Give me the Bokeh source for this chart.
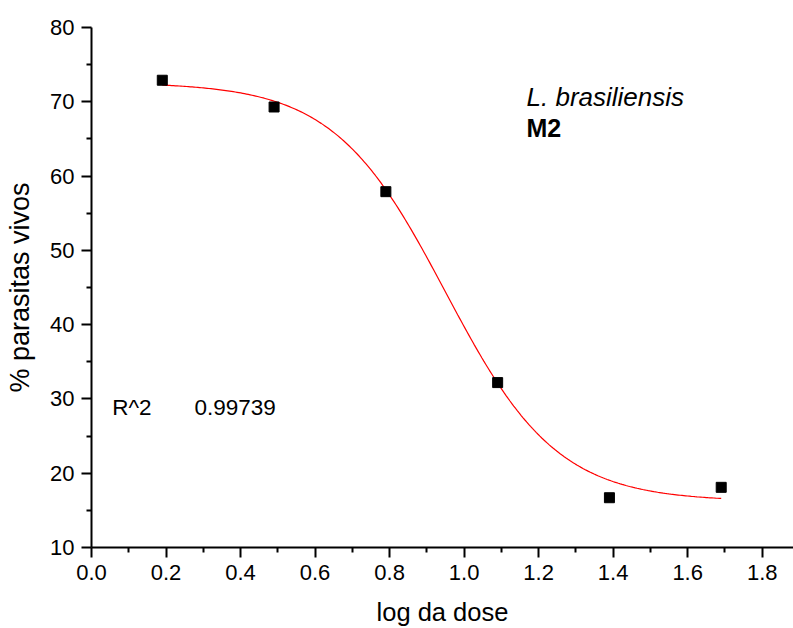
import numpy as np
from bokeh.plotting import figure
from bokeh.models import Range1d, FixedTicker, NumeralTickFormatter, Label
from bokeh.embed import file_html
from bokeh.resources import INLINE

# data
log_dose = [0.19, 0.49, 0.79, 1.09, 1.39, 1.69]
pct_alive = [72.9, 69.3, 57.9, 32.2, 16.7, 18.1]

# Boltzmann fit parameters (estimated from the drawn fit curve)
fit_A1 = 72.6
fit_A2 = 16.2
fit_x0 = 0.95
fit_dx = 0.15
r2_text = "0.99739"

x_ticks = [0.0, 0.2, 0.4, 0.6, 0.8, 1.0, 1.2, 1.4, 1.6, 1.8]
x_minor = [0.1, 0.3, 0.5, 0.7, 0.9, 1.1, 1.3, 1.5, 1.7]
y_ticks = [10, 20, 30, 40, 50, 60, 70, 80]
y_minor = [15, 25, 35, 45, 55, 65, 75]

FONT = "Liberation Sans"

p = figure(width=793, height=628, output_backend="svg", toolbar_location=None,
           x_range=Range1d(0, 1.884), y_range=Range1d(10, 80),
           min_border_left=91, min_border_right=0, min_border_top=27, min_border_bottom=80)
p.outline_line_color = None
p.xgrid.visible = False
p.ygrid.visible = False
p.background_fill_color = "white"
p.border_fill_color = "white"

xf = np.linspace(min(log_dose), max(log_dose), 300)
yf = fit_A2 + (fit_A1 - fit_A2) / (1 + np.exp((xf - fit_x0) / fit_dx))
p.line(xf, yf, line_color="#ff0000", line_width=1.2)
p.scatter(log_dose, pct_alive, marker="square", size=10, fill_color="black", line_color="black")

for ax, ticks, minor in ((p.xaxis[0], x_ticks, x_minor), (p.yaxis[0], y_ticks, y_minor)):
    ax.ticker = FixedTicker(ticks=ticks, minor_ticks=minor)
    ax.axis_line_width = 2
    ax.major_tick_line_width = 2
    ax.minor_tick_line_width = 2
    ax.major_tick_out = 10
    ax.major_tick_in = 0
    ax.minor_tick_out = 5
    ax.minor_tick_in = 0
    ax.major_label_text_font = FONT
    ax.major_label_text_font_size = "22px"
    ax.major_label_text_color = "black"
    ax.major_label_standoff = 7
    ax.axis_label_text_font = FONT
    ax.axis_label_text_font_style = "normal"
    ax.axis_label_text_color = "black"

p.xaxis[0].formatter = NumeralTickFormatter(format="0.0")
p.yaxis[0].formatter = NumeralTickFormatter(format="0")
p.xaxis[0].axis_label = "log da dose"
p.xaxis[0].axis_label_text_font_size = "25.5px"
p.xaxis[0].axis_label_standoff = 15
p.yaxis[0].axis_label = "% parasitas vivos"
p.yaxis[0].axis_label_text_font_size = "27px"
p.yaxis[0].axis_label_standoff = 12

p.add_layout(Label(x=1.1675, y=70.6, text="L. brasiliensis", text_font=FONT, text_color="black",
                   text_font_size="26px", text_font_style="italic", text_baseline="alphabetic"))
p.add_layout(Label(x=1.1675, y=66.44, text="M2", text_font=FONT, text_color="black",
                   text_font_size="25px", text_font_style="bold", text_baseline="alphabetic"))
p.add_layout(Label(x=0.0556, y=28.86, text="R^2", text_font=FONT, text_color="black",
                   text_font_size="22.5px", text_baseline="alphabetic"))
p.add_layout(Label(x=0.2764, y=28.86, text=r2_text, text_font=FONT, text_color="black",
                   text_font_size="22.5px", text_baseline="alphabetic"))

open("out.html", "w").write(file_html(p, INLINE))
